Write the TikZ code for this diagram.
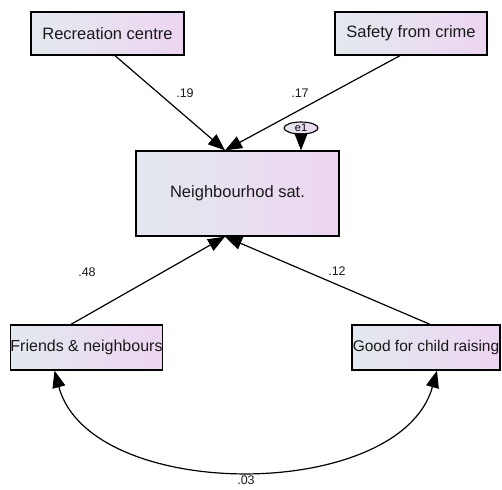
\documentclass[tikz,border=0pt]{standalone}
\usepackage{fontspec}
\setmainfont{Liberation Sans}
\usetikzlibrary{arrows.meta,shapes.geometric,calc}
\definecolor{lboxL}{HTML}{E3E9EE}
\definecolor{lboxR}{HTML}{EDD5F2}
\definecolor{txt}{HTML}{1A1A1A}
\tikzset{
  varbox/.style={draw=black, line width=1.3pt, rectangle, left color=lboxL, right color=lboxR,
    font=\fontsize{16.5}{18}\selectfont, text=txt, inner sep=0pt, minimum width=#1},
  path/.style={draw=black, line width=1.2pt, -{Triangle[length=17pt,width=13pt]}},
  coef/.style={font=\fontsize{12.5}{14}\selectfont, text=txt},
  errnode/.style={draw=black, line width=1.1pt, ellipse, left color=lboxL, right color=lboxR,
    minimum width=34pt, minimum height=12pt, inner sep=0pt, font=\fontsize{11}{11}\selectfont}
}
\begin{document}
\begin{tikzpicture}[x=1pt,y=-1pt]
\useasboundingbox (0,0) rectangle (502,489);
\fill[white] (0,0) rectangle (502,489);
\node[varbox=153pt, minimum height=43pt] (rec) at (107.5,33.5) {Recreation centre};
\node[varbox=152pt, minimum height=43pt] (saf) at (411,33.5) {Safety from crime};
\node[varbox=203pt, minimum height=85pt] (ns) at (237.5,193.5) {Neighbourhod sat.};
\node[varbox=151pt, minimum height=45pt, font=\fontsize{16}{18}\selectfont] (fr) at (86.5,347.5) {Friends \& neighbours};
\node[varbox=148pt, minimum height=45pt, font=\fontsize{15.5}{18}\selectfont] (gd) at (426,347.5) {Good for child raising};
\node[errnode] (e1) at (301,128) {e1};

\coordinate (nsT) at ([xshift=-12.5pt]ns.north);
\coordinate (nsB) at ([xshift=-12.5pt]ns.south);

\draw[path] ([xshift=7.5pt]rec.south) -- (nsT);
\draw[path] ([xshift=-11pt]saf.south) -- (nsT);
\draw[path] (e1.south) -- (e1.south |- ns.north);
\draw[path] ([xshift=-15.5pt]fr.north) -- (nsB);
\draw[path] ([xshift=4pt]gd.north) -- (nsB);
\draw[draw=black, line width=1.2pt, {Triangle[length=17pt,width=13pt]}-{Triangle[length=17pt,width=13pt]}]
  ([xshift=-32pt]fr.south) .. controls (90,503) and (400,503) .. ([xshift=11pt]gd.south);

\node[coef] (l1) at (185,93) {.19};
\node[coef] (l2) at (300,93) {.17};
\node[coef] (l3) at (87,272) {.48};
\node[coef] (l4) at (337,271) {.12};
\node[coef] (l5) at (246,480) {.03};
\end{tikzpicture}
\end{document}
